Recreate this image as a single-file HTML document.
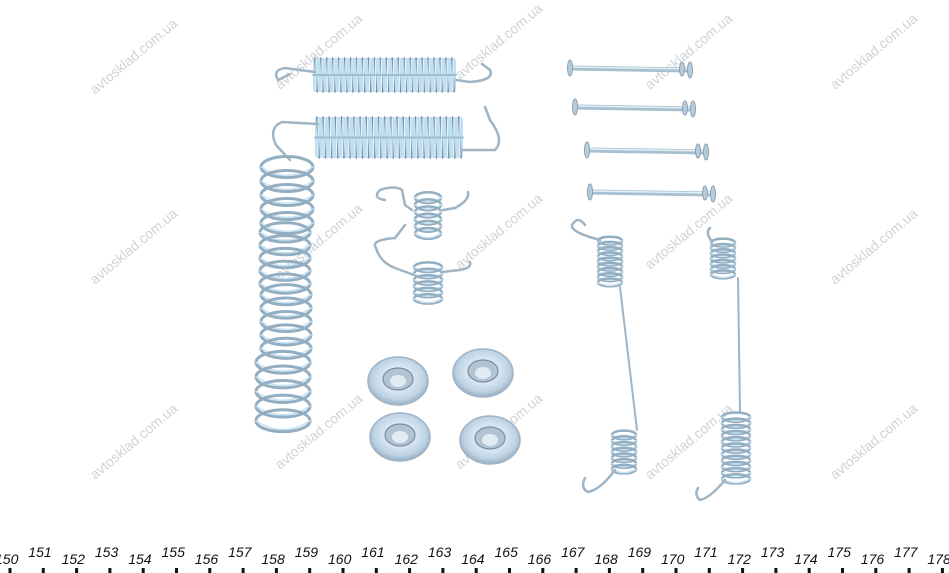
<!DOCTYPE html>
<html><head><meta charset="utf-8"><style>
html,body{margin:0;padding:0;background:#fff;}
svg{display:block;}
</style></head><body>
<svg id="s" width="949" height="573" viewBox="0 0 949 573" xmlns="http://www.w3.org/2000/svg">
<defs>
<radialGradient id="wg" cx="50%" cy="45%" r="55%">
<stop offset="0" stop-color="#9fb2c2"/><stop offset="0.45" stop-color="#dbe8f2"/><stop offset="0.8" stop-color="#bcd2e3"/><stop offset="1" stop-color="#98aec1"/></radialGradient>
</defs>
<g id="wm" fill="#cfd3d7" font-family="Liberation Sans, sans-serif" font-size="14"></g>
<g id="parts" fill="none" stroke-linecap="round"></g>
<g id="ruler" font-family="Liberation Sans, sans-serif" font-style="italic" font-size="14" fill="#111"></g>
</svg>
<script>
const NS="http://www.w3.org/2000/svg";
const P=document.getElementById('parts'),W=document.getElementById('wm'),R=document.getElementById('ruler');
function el(p,t,a,txt){const e=document.createElementNS(NS,t);for(const k in a)e.setAttribute(k,a[k]);if(txt)e.textContent=txt;p.appendChild(e);return e;}
[[95,95],[280,90],[460,80],[650,90],[835,90],[95,285],[280,280],[460,270],[650,270],[835,285],[95,480],[280,470],[460,470],[650,480],[835,480]].forEach(([x,y])=>{
el(W,'text',{x:x,y:y,transform:`rotate(-40 ${x} ${y})`},'avtosklad.com.ua');});
const wire="#9fb4c4",light="#bfe0f3",dark="#7a8b99";
function path(d,w,c){el(P,'path',{d:d,stroke:c||wire,'stroke-width':w||2.5});}
function hspring(x1,x2,y1,y2,n){
 el(P,'rect',{x:x1,y:y1,width:x2-x1,height:y2-y1,fill:light,stroke:'none',rx:3});
 const st=(x2-x1)/n;
 for(let i=0;i<n;i++){const x=x1+i*st;
  el(P,'line',{x1:x+st*0.3,y1:y1,x2:x+st*0.7,y2:y2,stroke:dark,'stroke-width':1.4});
  el(P,'line',{x1:x+st*0.5,y1:y1+2,x2:x+st*0.5,y2:y2-2,stroke:'#eef7fc','stroke-width':1});}
 el(P,'line',{x1:x1,y1:(y1+y2)/2,x2:x2,y2:(y1+y2)/2,stroke:'#9fbdd0','stroke-width':2});
}
function vspring(cx,y1,y2,rx,n,lw){
 const st=(y2-y1)/n;
 for(let i=0;i<n;i++){const y=y1+i*st+st/2;
  el(P,'ellipse',{cx:cx,cy:y,rx:rx,ry:st*0.75,stroke:'#93adc1','stroke-width':lw||2.5,fill:'none'});
  el(P,'path',{d:`M${cx-rx} ${y} Q${cx} ${y+st*1.2} ${cx+rx} ${y}`,stroke:'#c7e2f3','stroke-width':1.5});}
}
hspring(313,456,58,92,24);
path("M315 72 L285 68 Q272 70 278 80 L290 74");
path("M456 80 L470 82 Q495 80 490 70 L482 64");
hspring(315,463,117,158,24);
path("M318 124 L282 122 Q268 128 276 145 L290 160");
path("M463 150 L495 150 Q505 140 490 120 L485 107");
vspring(287,160,230,26,5,3);
vspring(285,226,290,25,5,3);
vspring(286,288,355,25,5,3);
vspring(283,355,428,27,5,3);
vspring(428,194,237,13,6,2.5);
path("M412 210 L405 205 L402 190 Q395 185 380 190 Q372 198 385 200");
path("M443 210 L455 208 Q470 200 468 192");
vspring(428,264,302,14,6,2.5);
path("M414 275 L395 268 Q380 262 376 248 Q370 240 395 238 L405 225");
path("M442 272 L460 270 Q472 268 470 262");
[[398,381],[483,373],[400,437],[490,440]].forEach(([x,y])=>{
 el(P,'ellipse',{cx:x,cy:y,rx:30,ry:24,fill:'url(#wg)',stroke:'#9fb4c6','stroke-width':1.5});
 el(P,'ellipse',{cx:x,cy:y-2,rx:15,ry:11,fill:'#b2c4d3',stroke:'#7a8ea0','stroke-width':1.2});
 el(P,'ellipse',{cx:x,cy:y,rx:8,ry:6,fill:'#e0ebf3',stroke:'none'});});
[[570,68,690],[575,107,693],[587,150,706],[590,192,713]].forEach(([a,y,b])=>{
 el(P,'line',{x1:a,y1:y,x2:b,y2:y+2,stroke:'#a8bfd0','stroke-width':5});
 el(P,'line',{x1:a,y1:y-1,x2:b,y2:y+1,stroke:'#e2eef6','stroke-width':1.5});
 el(P,'ellipse',{cx:a,cy:y,rx:2.5,ry:8,fill:'#b6cddd',stroke:'#8aa0b2'});
 el(P,'ellipse',{cx:b-8,cy:y+1,rx:2.5,ry:7,fill:'#b6cddd',stroke:'#8aa0b2'});
 el(P,'ellipse',{cx:b,cy:y+2,rx:2.5,ry:8,fill:'#b6cddd',stroke:'#8aa0b2'});});
vspring(610,238,285,12,9,2.5);
path("M600 240 Q570 232 572 225 Q578 215 585 225");
path("M620 287 L637 430",2);
vspring(624,432,472,12,7,2.5);
path("M615 470 Q600 490 588 492 Q580 488 585 478");
vspring(723,240,277,12,7,2.5);
path("M712 242 Q705 232 710 228");
path("M738 278 L740 412",2);
vspring(736,414,482,14,11,2.5);
path("M725 480 Q710 498 700 500 Q694 495 698 488");
for(let i=0;i<29;i++){const x=-5+i*33.3,up=i%2==1;
 el(R,'text',{x:x,y:up?557:564},String(150+i));
 el(R,'line',{x1:x+15,y1:568,x2:x+15,y2:573,stroke:'#111','stroke-width':3});}
</script>
</body></html>
